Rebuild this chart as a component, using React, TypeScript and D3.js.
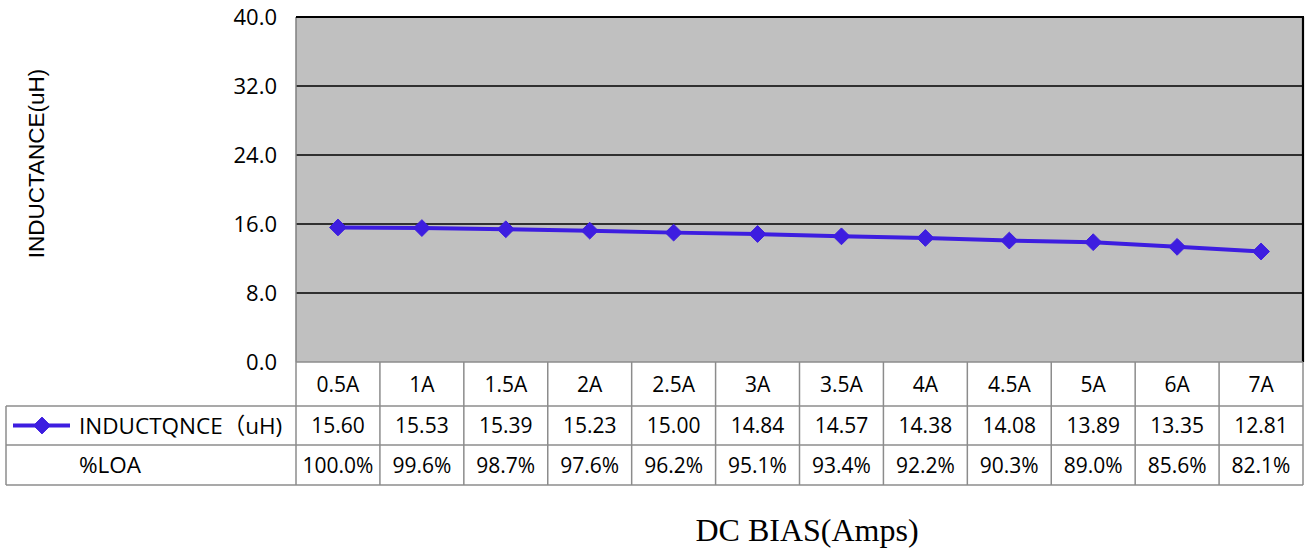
import * as d3 from 'd3';

const categories = ['0.5A', '1A', '1.5A', '2A', '2.5A', '3A', '3.5A', '4A', '4.5A', '5A', '6A', '7A'];
const inductance = [15.6, 15.53, 15.39, 15.23, 15.0, 14.84, 14.57, 14.38, 14.08, 13.89, 13.35, 12.81];
const loaLabels = ['100.0%', '99.6%', '98.7%', '97.6%', '96.2%', '95.1%', '93.4%', '92.2%', '90.3%', '89.0%', '85.6%', '82.1%'];
const yTicks = [0, 8, 16, 24, 32, 40];

const W = 1308;
const H = 552;
const PLOT = { left: 296, right: 1303, top: 17, bottom: 362 };
const TABLE_LEFT = 6;
const ROWS = [362, 406, 445, 485];
const LINE_COLOR = '#3d1de0';
const SANS = '"Open Sans", "Noto Sans", sans-serif';

export default function App() {
  const x = d3.scaleBand<string>().domain(categories).range([PLOT.left, PLOT.right]);
  const y = d3.scaleLinear().domain([0, 40]).range([PLOT.bottom, PLOT.top]);

  const pts = categories.map((c, i) => [x(c)! + x.bandwidth() / 2, y(inductance[i])] as [number, number]);
  const linePath = d3.line()(pts) ?? '';
  const diamond = d3.symbol(d3.symbolDiamond2, 180)() ?? '';

  const rowMid = (r: number) => (ROWS[r] + ROWS[r + 1]) / 2;

  return (
    <svg width={W} height={H} style={{ position: 'absolute', left: 0, top: 0, background: '#fff' }}>
      {/* plot background */}
      <rect x={PLOT.left} y={PLOT.top} width={PLOT.right - PLOT.left} height={PLOT.bottom - PLOT.top} fill="#c0c0c0" />

      {/* grid lines */}
      {yTicks.slice(1, -1).map((t) => (
        <line key={t} x1={PLOT.left} x2={PLOT.right} y1={y(t)} y2={y(t)} stroke="#000" strokeWidth={1.3} />
      ))}

      {/* plot borders */}
      <line x1={PLOT.left} x2={PLOT.left} y1={PLOT.top} y2={PLOT.bottom} stroke="#808080" strokeWidth={1.5} />
      <line x1={PLOT.left} x2={PLOT.right + 1} y1={PLOT.top} y2={PLOT.top} stroke="#000" strokeWidth={2.2} />
      <line x1={PLOT.right} x2={PLOT.right} y1={PLOT.top} y2={PLOT.bottom} stroke="#000" strokeWidth={2.2} />

      {/* y tick labels */}
      {yTicks.map((t) => (
        <text key={t} x={277} y={y(t)} dy="0.36em" textAnchor="end" fontFamily={SANS} fontSize={22} fill="#000">
          {t.toFixed(1)}
        </text>
      ))}

      {/* y axis title */}
      <text
        transform={`translate(44,${(PLOT.top + PLOT.bottom) / 2 - 26}) rotate(-90)`}
        textAnchor="middle"
        fontFamily='"Liberation Sans", Arial, sans-serif'
        fontSize={22.5}
        fill="#000"
      >
        INDUCTANCE(uH)
      </text>

      {/* series */}
      <path d={linePath} fill="none" stroke={LINE_COLOR} strokeWidth={4} />
      {pts.map(([px, py], i) => (
        <path key={i} d={diamond} transform={`translate(${px},${py})`} fill={LINE_COLOR} stroke={LINE_COLOR} strokeWidth={1} strokeLinejoin="round" />
      ))}

      {/* data table */}
      <g stroke="#8c8c8c" strokeWidth={1.5}>
        <line x1={PLOT.left} x2={PLOT.right} y1={ROWS[0]} y2={ROWS[0]} />
        {ROWS.slice(1).map((r) => (
          <line key={r} x1={TABLE_LEFT} x2={PLOT.right} y1={r} y2={r} />
        ))}
        <line x1={TABLE_LEFT} x2={TABLE_LEFT} y1={ROWS[1]} y2={ROWS[3]} />
        {categories.map((c) => (
          <line key={c} x1={x(c)!} x2={x(c)!} y1={ROWS[0]} y2={ROWS[3]} />
        ))}
        <line x1={PLOT.right} x2={PLOT.right} y1={ROWS[0]} y2={ROWS[3]} />
      </g>

      {categories.map((c, i) => {
        const cx = x(c)! + x.bandwidth() / 2;
        return (
          <g key={c} fontFamily={SANS} fontSize={21} fill="#000" textAnchor="middle">
            <text x={cx} y={rowMid(0)} dy="0.36em">{c}</text>
            <text x={cx} y={rowMid(1)} dy="0.36em">{inductance[i].toFixed(2)}</text>
            <text x={cx} y={rowMid(2)} dy="0.36em">{loaLabels[i]}</text>
          </g>
        );
      })}

      {/* legend key in table */}
      <line x1={13} x2={70} y1={rowMid(1)} y2={rowMid(1)} stroke={LINE_COLOR} strokeWidth={4} />
      <path d={diamond} transform={`translate(42,${rowMid(1)})`} fill={LINE_COLOR} stroke={LINE_COLOR} strokeWidth={1} />
      <text x={79} y={rowMid(1)} dy="0.36em" fontFamily={SANS} fontSize={22.5} fill="#000">
        INDUCTQNCE<tspan fontFamily='"Noto Sans CJK SC", sans-serif'>（</tspan>uH)
      </text>
      <text x={79} y={rowMid(2)} dy="0.36em" fontFamily={SANS} fontSize={22.5} fill="#000">
        %LOA
      </text>

      {/* x axis title */}
      <text x={807} y={541} textAnchor="middle" fontFamily='"Liberation Serif", "Times New Roman", serif' fontSize={32} fill="#000">
        DC BIAS(Amps)
      </text>
    </svg>
  );
}
